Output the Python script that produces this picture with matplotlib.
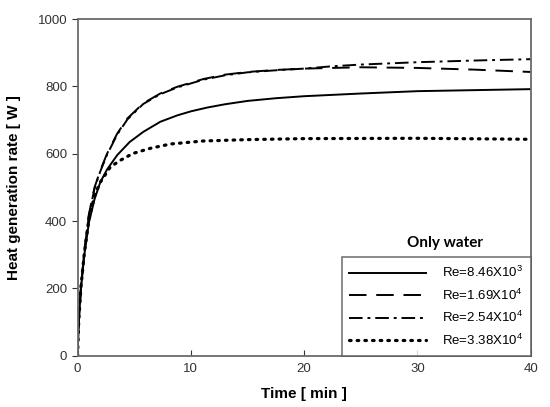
import matplotlib
matplotlib.use("Agg")
import matplotlib.pyplot as plt

plt.rcParams['font.family'] = ['Liberation Sans', 'DejaVu Sans']
plt.rcParams['mathtext.fontset'] = 'custom'
plt.rcParams['mathtext.rm'] = 'Liberation Sans'
plt.rcParams['mathtext.it'] = 'Liberation Sans'

t1 = [0, 0.1, 0.3, 0.6, 1, 1.5, 2, 2.6, 3.5, 4.6, 5.8, 7.3, 8.8, 10, 11.4, 13, 15, 17.5, 20, 25, 30, 35, 40]
re1 = [0, 95, 200, 300, 395, 465, 515, 553, 596, 635, 665, 695, 714, 726, 737, 747, 757, 765, 771, 779, 786, 789, 792]

t2 = [0, 0.1, 0.3, 0.6, 1, 1.5, 2, 2.6, 3.5, 4.4, 5.8, 7.3, 8.8, 11.1, 13, 15, 17.5, 20, 25, 30, 35, 40]
re2 = [0, 100, 205, 310, 420, 500, 550, 600, 660, 705, 750, 779, 799, 822, 835, 843, 849, 853, 857, 855, 850, 843]

t3 = [0, 0.1, 0.3, 0.6, 1, 1.5, 2, 2.6, 3.5, 4.4, 5.8, 7.3, 8.8, 11.1, 13, 15, 17.5, 20, 22.5, 25, 30, 35, 40]
re3 = [0, 98, 203, 308, 417, 497, 547, 597, 657, 702, 748, 777, 797, 820, 833, 842, 848, 853, 860, 865, 872, 877, 881]

t4 = [0, 0.1, 0.3, 0.6, 1, 1.5, 2, 2.9, 3.8, 4.9, 6.4, 8.2, 11.1, 15, 20, 30, 40]
re4 = [0, 100, 205, 305, 405, 475, 515, 561, 581, 601, 616, 629, 638, 642, 645, 646, 643]

labels = ['Re=8.46X10$^{3}$', 'Re=1.69X10$^{4}$', 'Re=2.54X10$^{4}$', 'Re=3.38X10$^{4}$']

fig = plt.figure(figsize=(5.5, 4.07), dpi=100)
ax = fig.add_axes([0.141, 0.126, 0.824, 0.827])

ax.plot(t1, re1, color='black', lw=1.4, ls='-', label=labels[0])
ax.plot(t2, re2, color='black', lw=1.4, ls=(0, (9, 5)), label=labels[1])
ax.plot(t3, re3, color='black', lw=1.4, ls=(0, (7, 2.5, 1.5, 2.5)), label=labels[2])
ax.plot(t4, re4, color='black', lw=2.3, ls=(0, (0.5, 1.9)), dash_capstyle='round', label=labels[3])

ax.set_xlim(0, 40)
ax.set_ylim(0, 1000)
ax.set_xticks([0, 10, 20, 30, 40])
ax.set_yticks([0, 200, 400, 600, 800, 1000])
ax.tick_params(axis='x', direction='in', length=4, labelsize=9.5, colors='#333333', pad=5)
ax.tick_params(axis='y', direction='out', length=4, labelsize=9.5, colors='#333333')
for s in ax.spines.values():
    s.set_color('#6a6a6a')
    s.set_linewidth(1.3)

ax.set_xlabel('Time [ min ]', fontsize=11, fontweight='bold', labelpad=9)
ax.set_ylabel('Heat generation rate [ W ]', fontsize=11, fontweight='bold', labelpad=12)

leg = ax.legend(loc='lower right', bbox_to_anchor=(1.0, 0.0), borderaxespad=0,
                fontsize=9.5, handlelength=5.8, handletextpad=1.2, labelspacing=0.55,
                fancybox=False, frameon=True, borderpad=0.6)
leg.get_frame().set_edgecolor('#555555')
leg.get_frame().set_linewidth(1.2)

ax.text(0.81, 0.335, 'Only water', transform=ax.transAxes, ha='center', va='center',
        fontsize=11, fontweight='bold', family=['Lato', 'DejaVu Sans'])

fig.savefig('out.png', dpi=100)
